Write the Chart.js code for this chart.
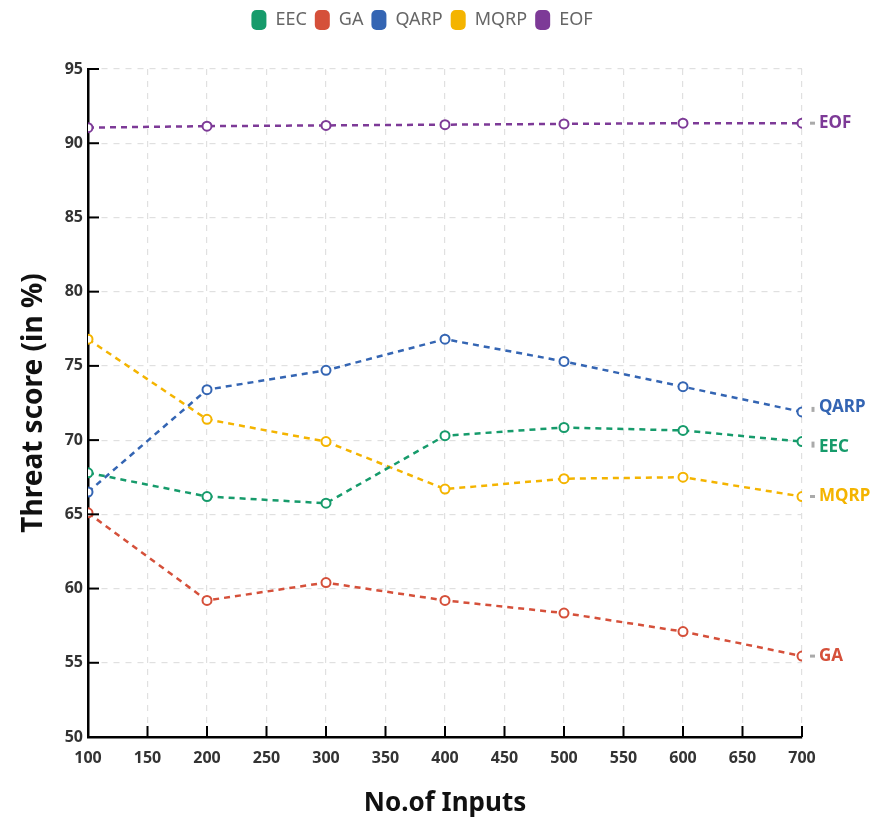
<!DOCTYPE html>
<html>
<head>
<meta charset="utf-8">
<script src="https://cdn.jsdelivr.net/npm/chart.js@4.4.0/dist/chart.umd.min.js"></script>
<style>
  body { margin: 0; background: #fff; }
  #wrap { width: 886px; height: 823px; position: relative; }
</style>
</head>
<body>
<div id="wrap"><canvas id="threatChart"></canvas></div>
<script>
const inputs = [100, 200, 300, 400, 500, 600, 700];
const seriesNames = ['EEC', 'GA', 'QARP', 'MQRP', 'EOF'];
const eecScores = [67.8, 66.2, 65.75, 70.3, 70.85, 70.65, 69.9];
const gaScores = [65.1, 59.2, 60.4, 59.2, 58.35, 57.1, 55.45];
const qarpScores = [66.5, 73.4, 74.7, 76.8, 75.3, 73.6, 71.9];
const mqrpScores = [76.8, 71.4, 69.9, 66.7, 67.4, 67.5, 66.2];
const eofScores = [91.05, 91.15, 91.2, 91.25, 91.3, 91.35, 91.35];

const colors = ['#169b6b', '#d5503a', '#3465b3', '#f4b400', '#7d3a97'];
const allScores = [eecScores, gaScores, qarpScores, mqrpScores, eofScores];
// small nudges so the QARP / EEC end labels don't collide
const labelNudge = [6, 0, -5, 0, 0];

const datasets = seriesNames.map((name, i) => ({
    label: name,
    data: inputs.map((x, j) => ({ x: x, y: allScores[i][j] })),
    borderColor: colors[i],
    backgroundColor: colors[i],
    pointBackgroundColor: '#fff',
    pointBorderColor: colors[i],
    pointBorderWidth: 2,
    pointRadius: 4.5,
    borderWidth: 2.5,
    borderDash: [6, 5],
    tension: 0
}));

// push the plot down below the legend
const legendGap = {
    id: 'legendGap',
    beforeInit(chart) {
        const origFit = chart.legend.fit;
        chart.legend.fit = function () {
            origFit.bind(chart.legend)();
            this.height += 29;
        };
    }
};

// inner tick marks (the original draws ticks pointing into the plot)
const innerTicks = {
    id: 'innerTicks',
    afterDatasetsDraw(chart) {
        const ctx = chart.ctx;
        const xs = chart.scales.x;
        const ys = chart.scales.y;
        const area = chart.chartArea;
        ctx.save();
        ctx.setLineDash([]);
        ctx.strokeStyle = '#000';
        ctx.lineWidth = 2;
        ys.ticks.forEach(t => {
            const py = ys.getPixelForValue(t.value);
            ctx.beginPath(); ctx.moveTo(area.left, py); ctx.lineTo(area.left + 11, py); ctx.stroke();
        });
        xs.ticks.forEach(t => {
            const px = xs.getPixelForValue(t.value);
            ctx.beginPath(); ctx.moveTo(px, area.bottom); ctx.lineTo(px, area.bottom - 11); ctx.stroke();
        });
        ctx.restore();
    }
};

// series names at the end of each line
const endLabels = {
    id: 'endLabels',
    afterDatasetsDraw(chart) {
        const ctx = chart.ctx;
        ctx.save();
        ctx.setLineDash([]);
        ctx.font = 'bold 17px "Noto Sans"';
        ctx.textBaseline = 'middle';
        chart.data.datasets.forEach((ds, i) => {
            const meta = chart.getDatasetMeta(i);
            const pt = meta.data[meta.data.length - 1];
            const ly = pt.y + labelNudge[i];
            ctx.strokeStyle = '#aaa';
            ctx.lineWidth = 3;
            ctx.beginPath();
            if (labelNudge[i] !== 0) {
                ctx.moveTo(pt.x + 11, pt.y); ctx.lineTo(pt.x + 11, ly);
            } else {
                ctx.moveTo(pt.x + 8, pt.y); ctx.lineTo(pt.x + 13, pt.y);
            }
            ctx.stroke();
            ctx.fillStyle = ds.borderColor;
            ctx.fillText(ds.label, pt.x + 17, ly);
        });
        ctx.restore();
    }
};

new Chart(document.getElementById('threatChart'), {
    type: 'line',
    data: { datasets },
    plugins: [legendGap, innerTicks, endLabels],
    options: {
        responsive: true,
        maintainAspectRatio: false,
        animation: false,
        layout: { padding: { top: 2, right: 42, left: 0, bottom: 0 } },
        plugins: {
            legend: {
                position: 'top',
                labels: {
                    boxWidth: 15,
                    boxHeight: 20,
                    useBorderRadius: true,
                    borderRadius: 5,
                    color: '#666',
                    padding: 8,
                    font: { family: 'Noto Sans', size: 18 },
                    generateLabels(chart) {
                        return chart.data.datasets.map((ds, i) => ({
                            text: ds.label,
                            fillStyle: ds.borderColor,
                            strokeStyle: ds.borderColor,
                            lineWidth: 0,
                            borderRadius: 5,
                            fontColor: '#666',
                            datasetIndex: i
                        }));
                    }
                }
            },
            tooltip: { enabled: false }
        },
        scales: {
            x: {
                type: 'linear',
                min: 100,
                max: 700,
                ticks: {
                    stepSize: 50,
                    color: '#333',
                    padding: 12,
                    font: { family: 'Noto Sans', size: 16, weight: 'bold' }
                },
                grid: { color: '#e0e0e0', lineWidth: 1.2, drawTicks: false },
                border: { color: '#000', width: 2.5, dash: [6, 6] },
                title: {
                    display: true,
                    text: 'No.of Inputs',
                    color: '#111',
                    padding: { top: 14 },
                    font: { family: 'Noto Sans', size: 26, weight: 'bold' }
                },
                afterFit(scale) { scale.height = 86; }
            },
            y: {
                min: 50,
                max: 95,
                ticks: {
                    stepSize: 5,
                    color: '#333',
                    padding: 5,
                    font: { family: 'Noto Sans', size: 16, weight: 'bold' }
                },
                grid: { color: '#e0e0e0', lineWidth: 1.2, drawTicks: false },
                border: { color: '#000', width: 2.5, dash: [6, 6] },
                title: {
                    display: true,
                    text: 'Threat score (in %)',
                    color: '#111',
                    padding: { top: 17, bottom: 4 },
                    font: { family: 'Noto Sans', size: 28, weight: 'bold' }
                },
                afterFit(scale) { scale.width = 88; }
            },
            // empty right-hand strip that keeps room for the end labels
            yRight: {
                position: 'right',
                min: 50,
                max: 95,
                ticks: { display: false },
                grid: { display: false, drawTicks: false },
                border: { display: false },
                afterFit(scale) { scale.width = 42; }
            }
        }
    }
});
</script>
</body>
</html>
